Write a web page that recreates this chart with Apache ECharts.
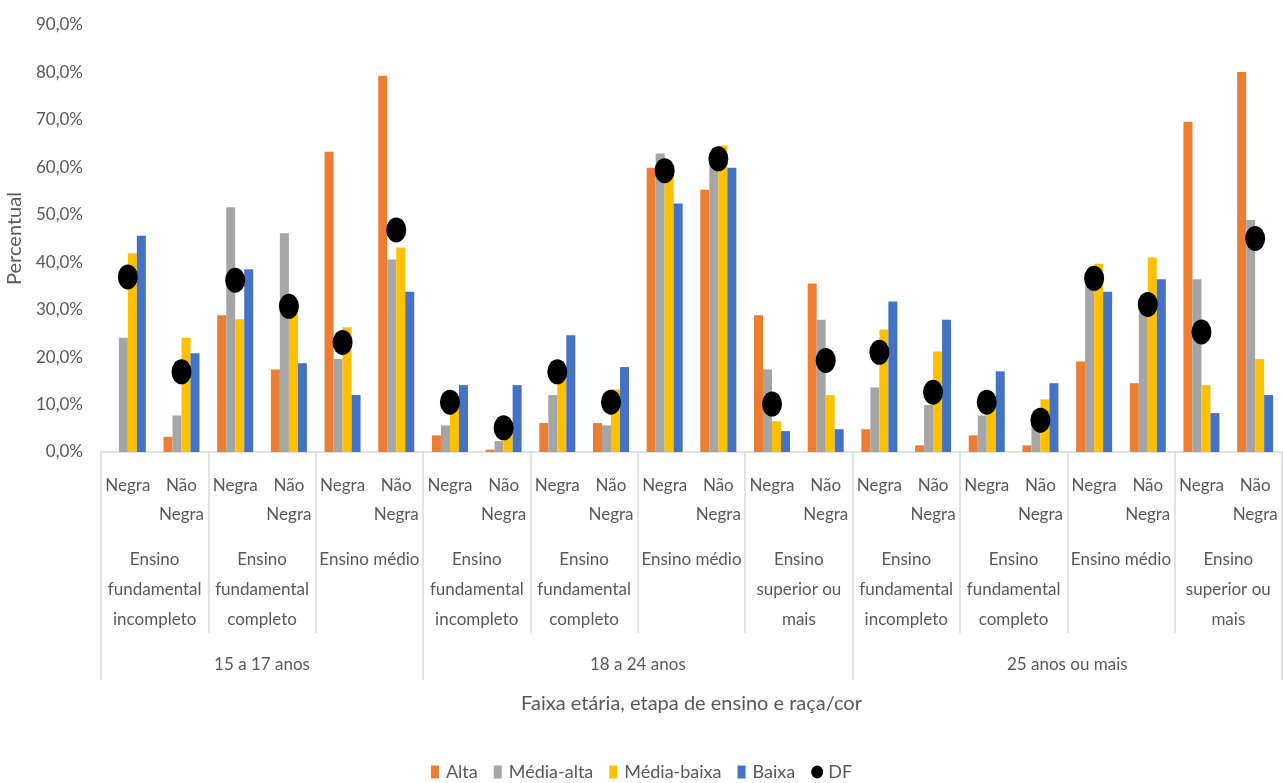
<!DOCTYPE html>
<html>
<head>
<meta charset="utf-8">
<script src="https://cdn.jsdelivr.net/npm/echarts@6/dist/echarts.min.js"></script>
<style>
  html, body { margin: 0; padding: 0; background: #fff; }
  #chart { width: 1283px; height: 783px; }
</style>
</head>
<body>
<div id="chart"></div>
<script>
// Race/colour of each bar cluster (one per category)
const racas = ["Negra", "Não\nNegra", "Negra", "Não\nNegra", "Negra", "Não\nNegra",
               "Negra", "Não\nNegra", "Negra", "Não\nNegra", "Negra", "Não\nNegra", "Negra", "Não\nNegra",
               "Negra", "Não\nNegra", "Negra", "Não\nNegra", "Negra", "Não\nNegra", "Negra", "Não\nNegra"];

// Education stage (each spans two categories)
const etapas = ["Ensino\nfundamental\nincompleto", "Ensino\nfundamental\ncompleto", "Ensino médio",
                "Ensino\nfundamental\nincompleto", "Ensino\nfundamental\ncompleto", "Ensino médio", "Ensino\nsuperior ou\nmais",
                "Ensino\nfundamental\nincompleto", "Ensino\nfundamental\ncompleto", "Ensino médio", "Ensino\nsuperior ou\nmais"];

// Age bands and how many categories each covers
const faixas = ["15 a 17 anos", "18 a 24 anos", "25 anos ou mais"];
const faixasSpan = [6, 8, 8];

// Percentages by income stratum
const alta       = [0, 3.2, 28.8, 17.4, 63.3, 79.3, 3.5, 0.5, 6.1, 6.1, 59.9, 55.3, 28.8, 35.5, 4.8, 1.4, 3.5, 1.4, 19.1, 14.5, 69.6, 80.1];
const mediaAlta  = [24.1, 7.7, 51.6, 46.1, 19.6, 40.6, 5.6, 2.3, 12.0, 5.6, 62.9, 62.5, 17.4, 27.9, 13.6, 9.9, 7.7, 5.9, 35.5, 29.9, 36.4, 48.9];
const mediaBaixa = [41.9, 24.1, 28.0, 29.5, 26.3, 43.1, 9.5, 4.4, 15.8, 13.2, 60.0, 64.6, 6.5, 12.0, 25.8, 21.2, 10.9, 11.1, 39.7, 41.0, 14.1, 19.6];
const baixa      = [45.6, 20.8, 38.5, 18.7, 12.0, 33.8, 14.1, 14.1, 24.6, 17.9, 52.4, 59.9, 4.4, 4.8, 31.7, 27.9, 17.0, 14.5, 33.8, 36.4, 8.2, 12.0];
const df         = [36.9, 16.9, 36.2, 30.7, 23.1, 46.8, 10.5, 5.1, 16.9, 10.5, 59.3, 61.8, 10.1, 19.3, 21.0, 12.6, 10.5, 6.7, 36.6, 31.1, 25.3, 45.0];

// Y-axis ticks
const yTicks = [0, 10, 20, 30, 40, 50, 60, 70, 80, 90];

const TXT = '#595959';
const LINE = '#d9d9d9';
const FONT = 'Lato, "Liberation Sans", Arial, sans-serif';

// Age band boundaries and centres in category units
const faixaBounds = [0];
faixasSpan.forEach(s => faixaBounds.push(faixaBounds[faixaBounds.length - 1] + s));
const faixaCenters = faixasSpan.map((s, i) => faixaBounds[i] + s / 2);

const chart = echarts.init(document.getElementById('chart'), null, { renderer: 'canvas' });

const barSeries = (name, data, color) => ({
  name, type: 'bar', data,
  xAxisIndex: 0, yAxisIndex: 0,
  barWidth: 9, barGap: '0%',
  itemStyle: { color },
  emphasis: { disabled: true }
});

const rectIcon = 'path://M0,0H8V13H0Z';
const dotIcon = 'path://M6,0A6,6.5,0,1,1,6,13A6,6.5,0,1,1,6,0Z';

chart.setOption({
  animation: false,
  backgroundColor: '#fff',
  grid: { left: 101, right: 1, top: 25, bottom: 331, containLabel: false, outerBoundsMode: 'none' },
  legend: {
    top: 758, left: 'center', padding: [5, 5, 5, 14],
    itemWidth: 12, itemHeight: 13, itemGap: 16,
    textStyle: { color: TXT, fontFamily: FONT, fontSize: 18 },
    data: [
      { name: 'Alta', icon: rectIcon },
      { name: 'Média-alta', icon: rectIcon },
      { name: 'Média-baixa', icon: rectIcon },
      { name: 'Baixa', icon: rectIcon },
      { name: 'DF', icon: dotIcon }
    ]
  },
  xAxis: [
    {
      type: 'category', data: racas, position: 'bottom',
      axisLine: { lineStyle: { color: LINE, width: 1.5 } },
      axisTick: { show: false },
      axisLabel: { interval: 0, color: TXT, fontFamily: FONT, fontSize: 17, lineHeight: 29, margin: 19 },
      name: 'Faixa etária, etapa de ensino e raça/cor',
      nameLocation: 'middle', nameGap: 241,
      nameTextStyle: { color: TXT, fontFamily: FONT, fontSize: 20, lineHeight: 22 }
    },
    {
      type: 'category', data: etapas, position: 'bottom',
      axisLine: { show: false },
      axisTick: { show: true, length: 181, lineStyle: { color: LINE, width: 1.5 } },
      axisLabel: { interval: 0, color: TXT, fontFamily: FONT, fontSize: 17, lineHeight: 30, margin: 93 },
      splitLine: { show: false }
    },
    {
      type: 'value', position: 'bottom', min: 0, max: faixaBounds[faixaBounds.length - 1],
      axisLine: { show: false },
      axisTick: { show: true, length: 228, customValues: faixaBounds, lineStyle: { color: LINE, width: 1.5 } },
      axisLabel: {
        color: TXT, fontFamily: FONT, fontSize: 17, lineHeight: 30, margin: 198,
        customValues: faixaCenters,
        formatter: v => faixas[faixaCenters.indexOf(v)] || ''
      },
      splitLine: { show: false }
    }
  ],
  yAxis: {
    type: 'value', min: yTicks[0], max: yTicks[yTicks.length - 1], interval: 10,
    axisLine: { show: false }, axisTick: { show: false }, splitLine: { show: false },
    axisLabel: {
      color: TXT, fontFamily: FONT, fontSize: 17, margin: 18,
      formatter: v => v.toFixed(1).replace('.', ',') + '%'
    },
    name: 'Percentual', nameLocation: 'middle', nameRotate: 90, nameGap: 52,
    nameTextStyle: { color: TXT, fontFamily: FONT, fontSize: 20 }
  },
  series: [
    barSeries('Alta', alta, '#ED7D31'),
    barSeries('Média-alta', mediaAlta, '#A5A5A5'),
    barSeries('Média-baixa', mediaBaixa, '#FFC000'),
    barSeries('Baixa', baixa, '#4472C4'),
    {
      name: 'DF', type: 'scatter', data: df,
      xAxisIndex: 0, yAxisIndex: 0,
      symbol: 'circle', symbolSize: [20, 25], z: 5,
      itemStyle: { color: '#000', opacity: 1 },
      emphasis: { disabled: true }
    }
  ]
});
</script>
</body>
</html>
